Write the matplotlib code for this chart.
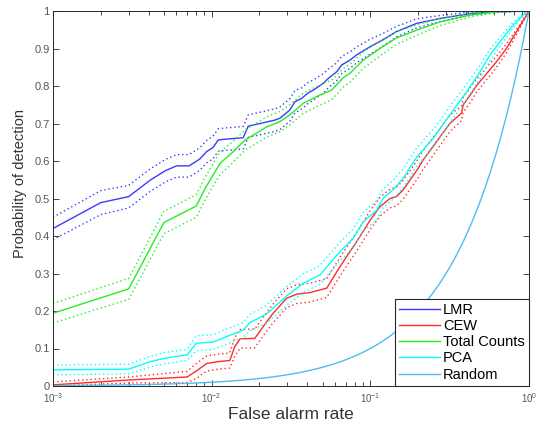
import numpy as np
import matplotlib
matplotlib.use('Agg')
import matplotlib.pyplot as plt
from matplotlib.ticker import LogLocator, NullFormatter

plt.rcParams['font.family'] = ['Liberation Sans', 'DejaVu Sans']
plt.rcParams['mathtext.fontset'] = 'custom'
plt.rcParams['mathtext.rm'] = 'Liberation Sans'

# %% data
far_lmr = [0.001, 0.002, 0.003, 0.0041, 0.0051, 0.006, 0.0072, 0.0084, 0.0093, 0.0102,
           0.011, 0.0121, 0.0158, 0.017, 0.0202, 0.025, 0.0269, 0.0311, 0.0335, 0.0369,
           0.0407, 0.0437, 0.0505, 0.0543, 0.0614, 0.066, 0.0744, 0.082, 0.1, 0.12,
           0.146, 0.196, 0.275, 0.425, 0.625, 1.0]
pd_lmr = [0.42, 0.489, 0.505, 0.549, 0.574, 0.587, 0.587, 0.605, 0.625, 0.636,
          0.656, 0.658, 0.662, 0.693, 0.70, 0.709, 0.714, 0.736, 0.758, 0.767,
          0.782, 0.789, 0.807, 0.82, 0.838, 0.856, 0.869, 0.883, 0.905, 0.923,
          0.945, 0.967, 0.98, 0.993, 0.998, 1.0]
band_lmr = [0.03, 0.032, 0.03, 0.03, 0.03, 0.03, 0.03, 0.03, 0.03, 0.03,
            0.03, 0.03, 0.03, 0.03, 0.03, 0.03, 0.03, 0.03, 0.03, 0.028,
            0.028, 0.027, 0.026, 0.025, 0.024, 0.023, 0.022, 0.021, 0.02, 0.017,
            0.014, 0.012, 0.008, 0.004, 0.002, 0.0]

far_cew = [0.001, 0.003, 0.007, 0.008, 0.0093, 0.011, 0.013, 0.014, 0.0151, 0.0187,
           0.0222, 0.0244, 0.0297, 0.0344, 0.0416, 0.0531, 0.0643, 0.082, 0.1, 0.115,
           0.133, 0.146, 0.161, 0.2, 0.213, 0.317, 0.376, 0.385, 0.425, 0.465,
           0.625, 0.72, 1.0]
pd_cew = [0.003, 0.016, 0.024, 0.04, 0.06, 0.065, 0.068, 0.105, 0.126, 0.127,
          0.171, 0.194, 0.234, 0.245, 0.249, 0.261, 0.318, 0.385, 0.443, 0.478,
          0.5, 0.505, 0.523, 0.58, 0.6, 0.7, 0.728, 0.75, 0.775, 0.8,
          0.865, 0.9, 1.0]
band_cew = [0.008, 0.008, 0.015, 0.02, 0.02, 0.02, 0.02, 0.025, 0.025, 0.025,
            0.025, 0.025, 0.025, 0.025, 0.025, 0.025, 0.025, 0.025, 0.025, 0.025,
            0.025, 0.025, 0.025, 0.025, 0.025, 0.022, 0.02, 0.02, 0.02, 0.018,
            0.015, 0.012, 0.0]

far_tc = [0.001, 0.003, 0.005, 0.008, 0.0091, 0.0113, 0.0137, 0.0162, 0.0183, 0.0222,
          0.0269, 0.0311, 0.0378, 0.0481, 0.057, 0.0675, 0.0744, 0.0902, 0.115, 0.146,
          0.196, 0.275, 0.425, 0.625, 1.0]
pd_tc = [0.194, 0.259, 0.436, 0.48, 0.527, 0.594, 0.625, 0.656, 0.669, 0.691,
         0.705, 0.723, 0.754, 0.776, 0.789, 0.822, 0.834, 0.869, 0.9, 0.928,
         0.949, 0.971, 0.989, 0.998, 1.0]
band_tc = [0.026, 0.028, 0.03, 0.03, 0.03, 0.03, 0.028, 0.027, 0.027, 0.027,
           0.027, 0.027, 0.027, 0.027, 0.026, 0.025, 0.024, 0.022, 0.02, 0.017,
           0.014, 0.01, 0.005, 0.002, 0.0]

far_pca = [0.001, 0.003, 0.0041, 0.0052, 0.007, 0.008, 0.0102, 0.013, 0.0158, 0.0174,
           0.0222, 0.0297, 0.0378, 0.0481, 0.0555, 0.0643, 0.078, 0.0902, 0.11, 0.12,
           0.139, 0.161, 0.196, 0.249, 0.317, 0.405, 0.491, 0.568, 0.657, 0.795,
           0.966, 1.0]
pd_pca = [0.043, 0.045, 0.065, 0.075, 0.083, 0.114, 0.117, 0.135, 0.149, 0.169,
          0.192, 0.24, 0.274, 0.296, 0.327, 0.358, 0.394, 0.438, 0.469, 0.5,
          0.523, 0.554, 0.61, 0.66, 0.723, 0.785, 0.838, 0.883, 0.918, 0.963,
          0.998, 1.0]
band_pca = [0.013, 0.013, 0.014, 0.015, 0.015, 0.02, 0.02, 0.02, 0.02, 0.022,
            0.024, 0.025, 0.025, 0.025, 0.025, 0.025, 0.025, 0.025, 0.025, 0.025,
            0.025, 0.025, 0.025, 0.024, 0.022, 0.02, 0.018, 0.015, 0.012, 0.008,
            0.002, 0.0]

# chance line: P_d equals the false alarm rate
far_rand = np.logspace(-3, 0, 200)
pd_rand = far_rand.copy()

curves = [('LMR', far_lmr, pd_lmr, band_lmr, '#3a3aff'),
          ('CEW', far_cew, pd_cew, band_cew, '#ff2a2a'),
          ('Total Counts', far_tc, pd_tc, band_tc, '#22ee22'),
          ('PCA', far_pca, pd_pca, band_pca, '#00ffff')]

# %%
fig = plt.figure(figsize=(5.39, 4.28), dpi=100)
ax = fig.add_axes([53/539, 42/428, 476/539, 375/428])

for name, far, pd_, band, col in curves:
    far = np.array(far)
    pd_ = np.array(pd_)
    band = np.array(band)
    ax.plot(far, pd_, color=col, lw=1.0, label=name)
    ax.plot(far, np.clip(pd_ + band, 0, 1), color=col, lw=1.0, ls=(0, (1, 2)))
    ax.plot(far, np.clip(pd_ - band, 0, 1), color=col, lw=1.0, ls=(0, (1, 2)))
ax.plot(far_rand, pd_rand, color='#4dbeee', lw=1.0, label='Random')

ax.set_xscale('log')
ax.set_xlim(1e-3, 1)
ax.set_ylim(0, 1)
ax.set_yticks(np.arange(0, 1.01, 0.1))
ax.set_yticklabels(['0', '0.1', '0.2', '0.3', '0.4', '0.5', '0.6', '0.7', '0.8', '0.9', '1'])
ax.xaxis.set_minor_locator(LogLocator(base=10, subs=np.arange(2, 10)))
ax.xaxis.set_minor_formatter(NullFormatter())

ax.tick_params(which='both', direction='in', top=True, right=True,
               colors='#262626', labelcolor='#555555')
ax.tick_params(which='major', length=4, width=0.6)
ax.tick_params(which='minor', length=3, width=0.6)
ax.tick_params(axis='y', labelsize=8, pad=2.5)
ax.tick_params(axis='x', labelsize=7, pad=4)
for s in ax.spines.values():
    s.set_color('#262626')
    s.set_linewidth(0.7)

ax.set_xlabel('False alarm rate', fontsize=12.5, color='#333333')
ax.set_ylabel('Probability of detection', fontsize=10.5, color='#333333')
ax.xaxis.set_label_coords(0.5, -0.056)
ax.yaxis.set_label_coords(-0.055, 0.539)

leg = ax.legend(loc='lower right', fontsize=10.5, frameon=True, fancybox=False,
                framealpha=1, edgecolor='#262626', borderaxespad=0,
                borderpad=0.3, labelspacing=0.15, handlelength=2.8,
                handletextpad=0.2)
leg.get_frame().set_linewidth(0.8)

fig.savefig('out.png', dpi=100)
